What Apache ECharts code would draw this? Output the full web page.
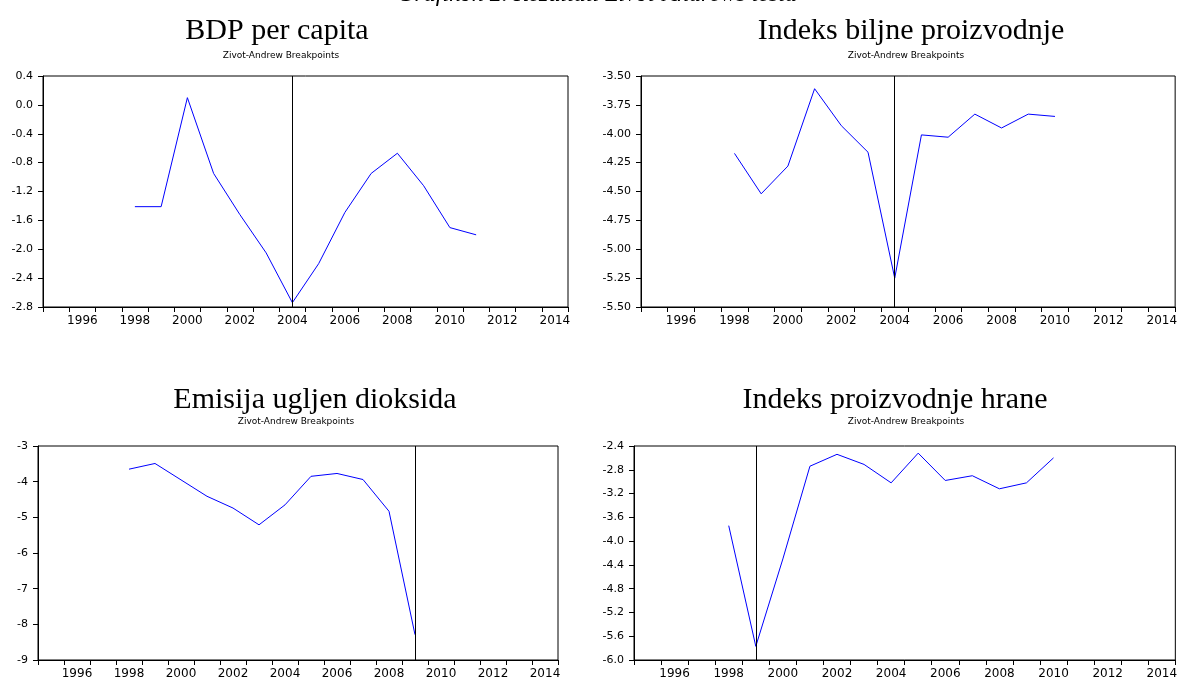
<!DOCTYPE html>
<html>
<head>
<meta charset="utf-8">
<script src="https://cdn.jsdelivr.net/npm/echarts@6/dist/echarts.min.js"></script>
<style>
html,body{margin:0;padding:0;background:#fff;}
#chart{width:1180px;height:686px;}
</style>
</head>
<body>
<div id="chart"></div>
<script>
// Axis categories (years)
const years = ['1995','1996','1997','1998','1999','2000','2001','2002','2003','2004',
               '2005','2006','2007','2008','2009','2010','2011','2012','2013','2014'];

// Panel titles
const mainTitle = 'Grafikon 2. Rezultati Zivot-Andrews testa';
const subTitle = 'Zivot-Andrew Breakpoints';
const titles = ['BDP per capita', 'Indeks biljne proizvodnje', 'Emisija ugljen dioksida', 'Indeks proizvodnje hrane'];

// BDP per capita
const bdpYears = ['1998','1999','2000','2001','2002','2003','2004','2005','2006','2007','2008','2009','2010','2011'];
const bdpValues = [-1.41, -1.41, 0.10, -0.95, -1.52, -2.05, -2.74, -2.20, -1.49, -0.95, -0.67, -1.12, -1.70, -1.80];
const bdpBreak = '2004';

// Indeks biljne proizvodnje
const biljYears = ['1998','1999','2000','2001','2002','2003','2004','2005','2006','2007','2008','2009','2010'];
const biljValues = [-4.17, -4.52, -4.28, -3.61, -3.93, -4.16, -5.25, -4.01, -4.03, -3.83, -3.95, -3.83, -3.85];
const biljBreak = '2004';

// Emisija ugljen dioksida
const emiYears = ['1998','1999','2000','2001','2002','2003','2004','2005','2006','2007','2008','2009'];
const emiValues = [-3.65, -3.49, -3.95, -4.41, -4.74, -5.21, -4.65, -3.85, -3.77, -3.94, -4.83, -8.29];
const emiBreak = '2009';

// Indeks proizvodnje hrane
const hranaYears = ['1998','1999','2000','2001','2002','2003','2004','2005','2006','2007','2008','2009','2010'];
const hranaValues = [-3.74, -5.77, -4.30, -2.74, -2.54, -2.71, -3.02, -2.52, -2.98, -2.90, -3.12, -3.02, -2.60];
const hranaBreak = '1999';

// Y-axis scales [min, max, interval, decimals]
const yScales = [
  [-2.8, 0.4, 0.4, 1],
  [-5.5, -3.5, 0.25, 2],
  [-9, -3, 1, 0],
  [-6.0, -2.4, 0.4, 1]
];

const grids = [
  {left: 43,  top: 76,  width: 525, height: 231},
  {left: 641, top: 76,  width: 537, height: 231},
  {left: 38,  top: 446, width: 520, height: 214},
  {left: 634, top: 446, width: 544, height: 214}
];

const seriesSets = [
  [bdpYears, bdpValues, bdpBreak],
  [biljYears, biljValues, biljBreak],
  [emiYears, emiValues, emiBreak],
  [hranaYears, hranaValues, hranaBreak]
];

const titlePos = [
  {tx: 277, ty: 16,  sx: 281, sy: 51},
  {tx: 911, ty: 16,  sx: 906, sy: 51},
  {tx: 315, ty: 385, sx: 296, sy: 417},
  {tx: 895, ty: 385, sx: 906, sy: 417}
];

const option = {
  animation: false,
  backgroundColor: '#ffffff',
  grid: grids.map(g => Object.assign({show: true, borderColor: '#000', borderWidth: 1, containLabel: false}, g)),
  xAxis: grids.map((g, i) => ({
    type: 'category',
    gridIndex: i,
    data: years,
    boundaryGap: true,
    axisLine: {show: true, onZero: false, lineStyle: {color: '#000', width: 1}},
    axisTick: {show: true, interval: 0, length: 5, lineStyle: {color: '#000'}},
    axisLabel: {
      interval: (idx, val) => Number(val) % 2 === 0,
      color: '#000', fontFamily: 'DejaVu Sans', fontSize: 12, margin: 8
    },
    splitLine: {show: false}
  })),
  yAxis: yScales.map((s, i) => ({
    type: 'value',
    gridIndex: i,
    min: s[0], max: s[1], interval: s[2],
    axisLine: {show: true, onZero: false, lineStyle: {color: '#000', width: 1}},
    axisTick: {show: true, length: 5, lineStyle: {color: '#000'}},
    axisLabel: {
      color: '#000', fontFamily: 'DejaVu Sans', fontSize: 11, margin: 10,
      formatter: v => v.toFixed(s[3])
    },
    splitLine: {show: false}
  })),
  series: seriesSets.map((set, i) => ({
    type: 'line',
    xAxisIndex: i,
    yAxisIndex: i,
    data: set[0].map((y, k) => [y, set[1][k]]),
    showSymbol: false,
    symbol: 'none',
    lineStyle: {color: '#0000ff', width: 1},
    itemStyle: {color: '#0000ff'},
    silent: true,
    markLine: {
      silent: true,
      symbol: ['none', 'none'],
      label: {show: false},
      lineStyle: {color: '#000', width: 1, type: 'solid'},
      data: [{xAxis: set[2]}]
    }
  })),
  graphic: [
    {type: 'text', x: 597, y: 7, style: {text: mainTitle, font: 'italic 24px "Liberation Serif"', fill: '#000', textAlign: 'center', textVerticalAlign: 'bottom'}}
  ].concat(titlePos.flatMap((p, i) => [
    {type: 'text', x: p.tx, y: p.ty, style: {text: titles[i], font: '30px "Liberation Serif"', fill: '#000', textAlign: 'center', textVerticalAlign: 'top'}},
    {type: 'text', x: p.sx, y: p.sy, style: {text: subTitle, font: '9px "DejaVu Sans"', fill: '#000', textAlign: 'center', textVerticalAlign: 'top'}}
  ]))
};

const chart = echarts.init(document.getElementById('chart'), null, {renderer: 'canvas'});
chart.setOption(option);
</script>
</body>
</html>
